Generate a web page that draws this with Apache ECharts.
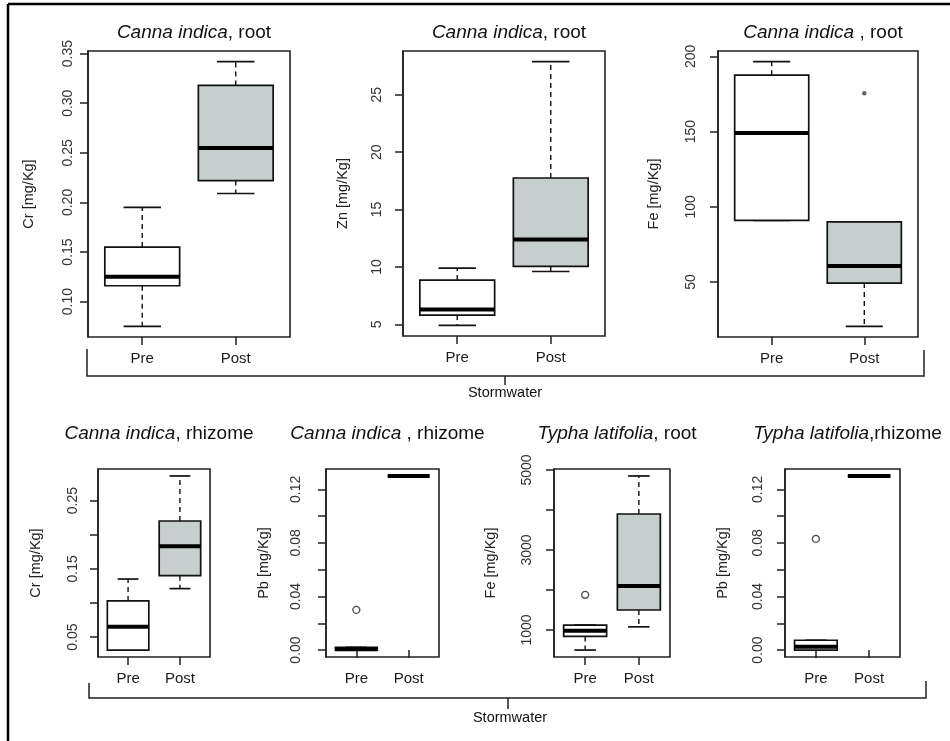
<!DOCTYPE html>
<html>
<head>
<meta charset="utf-8">
<script src="https://cdn.jsdelivr.net/npm/echarts@6.0.0/dist/echarts.min.js"></script>
<style>
html,body{margin:0;padding:0;background:#fff;}
#c{width:950px;height:741px;}
</style>
</head>
<body>
<div id="c"></div>
<script>
// ---- data: [lower whisker, Q1, median, Q3, upper whisker] ----
const groups = ['Pre', 'Post'];

const crRootPre  = [0.075, 0.116, 0.125, 0.155, 0.195];
const crRootPost = [0.209, 0.222, 0.255, 0.318, 0.342];
const crRootOut  = [[], []];

const znRootPre  = [4.9, 5.8, 6.3, 8.85, 9.9];
const znRootPost = [9.6, 10.05, 12.4, 17.75, 27.9];
const znRootOut  = [[], []];

const feRootPre  = [91, 91, 149, 187.5, 196.5];
const feRootPost = [20.5, 49.3, 60.7, 90, 90];
const feRootOut  = [[], [175.5]];

const crRhizPre  = [0.031, 0.031, 0.065, 0.103, 0.135];
const crRhizPost = [0.121, 0.140, 0.183, 0.220, 0.286];
const crRhizOut  = [[], []];

const pbCannaRhizPre  = [0, 0, 0.0005, 0.002, 0.002];
const pbCannaRhizPost = [0.13, 0.13, 0.13, 0.13, 0.13];
const pbCannaRhizOut  = [[0.03], []];

const feTyphaRootPre  = [500, 840, 980, 1125, 1125];
const feTyphaRootPost = [1080, 1500, 2100, 3900, 4850];
const feTyphaRootOut  = [[1880], []];

const pbTyphaRhizPre  = [0, 0, 0.0025, 0.0073, 0.0073];
const pbTyphaRhizPost = [0.13, 0.13, 0.13, 0.13, 0.13];
const pbTyphaRhizOut  = [[0.083], []];

// tick values and labelled ticks per panel
const ticksCrRoot = [0.10, 0.15, 0.20, 0.25, 0.30, 0.35];
const labelsCrRoot = ticksCrRoot;
const ticksZn = [5, 10, 15, 20, 25];
const labelsZn = ticksZn;
const ticksFeRoot = [50, 100, 150, 200];
const labelsFeRoot = ticksFeRoot;
const ticksCrRhiz = [0.05, 0.10, 0.15, 0.20, 0.25];
const labelsCrRhiz = [0.05, 0.15, 0.25];
const ticksPb = [0, 0.02, 0.04, 0.06, 0.08, 0.10, 0.12];
const labelsPb = [0, 0.04, 0.08, 0.12];
const ticksFeTypha = [1000, 2000, 3000, 4000, 5000];
const labelsFeTypha = [1000, 3000, 5000];

// ---- panel definitions (layout only) ----
const panels = [
  {pre: crRootPre, post: crRootPost, out: crRootOut, ticks: ticksCrRoot, labels: labelsCrRoot, dec: 2,
   name: 'Cr [mg/Kg]', title: ['Canna indica', ', root'],
   box: [88, 51, 202, 286], lblMargin: 13, nameGap: 52, outSym: 'hollow'},
  {pre: znRootPre, post: znRootPost, out: znRootOut, ticks: ticksZn, labels: labelsZn, dec: 0,
   name: 'Zn [mg/Kg]', title: ['Canna indica', ', root'],
   box: [403, 51, 202, 285], lblMargin: 19, nameGap: 53, outSym: 'hollow'},
  {pre: feRootPre, post: feRootPost, out: feRootOut, ticks: ticksFeRoot, labels: labelsFeRoot, dec: 0,
   name: 'Fe [mg/Kg]', title: ['Canna indica', ' , root'],
   box: [718, 51, 200, 286], lblMargin: 20, nameGap: 57, outSym: 'dot'},
  {pre: crRhizPre, post: crRhizPost, out: crRhizOut, ticks: ticksCrRhiz, labels: labelsCrRhiz, dec: 2,
   name: 'Cr [mg/Kg]', title: ['Canna indica', ', rhizome'],
   box: [98, 469, 112, 188], lblMargin: 18, nameGap: 55, outSym: 'hollow'},
  {pre: pbCannaRhizPre, post: pbCannaRhizPost, out: pbCannaRhizOut, ticks: ticksPb, labels: labelsPb, dec: 2,
   name: 'Pb [mg/Kg]', title: ['Canna indica', ' , rhizome'],
   box: [326, 469, 113, 188], lblMargin: 23, nameGap: 55, outSym: 'hollow'},
  {pre: feTyphaRootPre, post: feTyphaRootPost, out: feTyphaRootOut, ticks: ticksFeTypha, labels: labelsFeTypha, dec: 0,
   name: 'Fe [mg/Kg]', title: ['Typha latifolia', ', root'],
   box: [554, 469, 116, 188], lblMargin: 20, nameGap: 56, outSym: 'hollow'},
  {pre: pbTyphaRhizPre, post: pbTyphaRhizPost, out: pbTyphaRhizOut, ticks: ticksPb, labels: labelsPb, dec: 2,
   name: 'Pb [mg/Kg]', title: ['Typha latifolia', ',rhizome'],
   box: [785, 469, 115, 188], lblMargin: 20, nameGap: 55, outSym: 'hollow'}
];

const GRAY = '#c6cfcd';
const FONT = '"Liberation Sans", Arial, sans-serif';

function renderBox(params, api) {
  const x = api.value(0);
  const lo = api.coord([x, api.value(1)]);
  const q1 = api.coord([x, api.value(2)]);
  const md = api.coord([x, api.value(3)]);
  const q3 = api.coord([x, api.value(4)]);
  const hi = api.coord([x, api.value(5)]);
  const w = api.size([0.8, 0])[0];
  const cx = lo[0];
  const fill = x === 2 ? GRAY : '#ffffff';
  const dash = {stroke: '#111', lineWidth: 1.4, lineDash: [5, 4]};
  const solid = {stroke: '#111', lineWidth: 1.7};
  const ch = [];
  if (Math.abs(lo[1] - q1[1]) > 0.5) ch.push({type: 'line', shape: {x1: cx, y1: q1[1], x2: cx, y2: lo[1]}, style: dash});
  if (Math.abs(hi[1] - q3[1]) > 0.5) ch.push({type: 'line', shape: {x1: cx, y1: q3[1], x2: cx, y2: hi[1]}, style: dash});
  ch.push({type: 'line', shape: {x1: cx - w / 4, y1: lo[1], x2: cx + w / 4, y2: lo[1]}, style: solid});
  ch.push({type: 'line', shape: {x1: cx - w / 4, y1: hi[1], x2: cx + w / 4, y2: hi[1]}, style: solid});
  ch.push({type: 'rect', shape: {x: cx - w / 2, y: q3[1], width: w, height: q1[1] - q3[1]},
           style: {fill: fill, stroke: '#111', lineWidth: 1.7}});
  ch.push({type: 'line', shape: {x1: cx - w / 2, y1: md[1], x2: cx + w / 2, y2: md[1]},
           style: {stroke: '#000', lineWidth: 4}});
  return {type: 'group', children: ch};
}

const grid = [], xAxis = [], yAxis = [], series = [], title = [];
panels.forEach((p, i) => {
  const [l, t, w, h] = p.box;
  grid.push({left: l, top: t, width: w, height: h, show: true, borderColor: '#222', borderWidth: 1.6,
             backgroundColor: 'transparent', containLabel: false});
  // R-like limits: data range extended by 4%
  const all = p.pre.concat(p.post, p.out[0], p.out[1]);
  const mn = Math.min.apply(null, all), mx = Math.max.apply(null, all);
  const ext = (mx - mn) * 0.04;
  xAxis.push({type: 'value', gridIndex: i, min: 0.42, max: 2.58,
    axisLine: {show: false}, splitLine: {show: false},
    axisTick: {show: true, customValues: [1, 2], length: 8, lineStyle: {color: '#222', width: 1.5}},
    axisLabel: {show: true, customValues: [1, 2], margin: 14, fontSize: 15, color: '#1a1a1a', fontFamily: FONT,
      formatter: v => groups[Math.round(v) - 1] || ''}
  });
  yAxis.push({type: 'value', gridIndex: i, min: mn - ext, max: mx + ext,
    name: p.name, nameLocation: 'middle', nameGap: p.nameGap, nameRotate: 90,
    nameTextStyle: {fontSize: 14.5, color: '#222', fontFamily: FONT},
    axisLine: {show: true, lineStyle: {color: '#222', width: 1.5}}, splitLine: {show: false},
    axisTick: {show: true, customValues: p.ticks, length: 8, lineStyle: {color: '#222', width: 1.5}},
    axisLabel: {show: true, customValues: p.labels, rotate: 90, margin: p.lblMargin, fontSize: 14,
      color: '#333', fontFamily: FONT, formatter: v => Number(v).toFixed(p.dec)}
  });
  series.push({type: 'custom', xAxisIndex: i, yAxisIndex: i, renderItem: renderBox, clip: false,
    encode: {x: 0, y: [1, 2, 3, 4, 5]}, silent: true,
    data: [[1].concat(p.pre), [2].concat(p.post)]});
  const outData = [];
  p.out.forEach((arr, g) => arr.forEach(v => outData.push([g + 1, v])));
  if (outData.length) {
    series.push({type: 'scatter', xAxisIndex: i, yAxisIndex: i, silent: true, data: outData,
      symbol: 'circle',
      symbolSize: p.outSym === 'dot' ? 4.5 : 7,
      itemStyle: p.outSym === 'dot' ? {color: '#444'} : {color: '#fff', borderColor: '#222', borderWidth: 1.3}});
  }
  const row = i < 3 ? 0 : 1;
  title.push({text: '{i|' + p.title[0] + '}' + p.title[1], left: l + w / 2, top: row === 0 ? 18 : 419,
    textAlign: 'center',
    textStyle: {fontSize: 19, fontWeight: 'normal', color: '#111', fontFamily: FONT,
      rich: {i: {fontSize: 19, fontStyle: 'italic', color: '#111', fontFamily: FONT}}}});
});

const L = {stroke: '#222', lineWidth: 1.5};
const graphic = [
  // outer frame
  {type: 'line', shape: {x1: 8, y1: 4, x2: 8, y2: 741}, style: {stroke: '#000', lineWidth: 2.5}},
  {type: 'line', shape: {x1: 8, y1: 4, x2: 950, y2: 4}, style: {stroke: '#000', lineWidth: 2.5}},
  // top bracket
  {type: 'polyline', shape: {points: [[87, 349], [87, 376], [924, 376], [924, 350]]}, style: Object.assign({fill: 'none'}, L)},
  {type: 'line', shape: {x1: 505, y1: 376, x2: 505, y2: 385}, style: L},
  {type: 'text', x: 505, y: 393, style: {text: 'Stormwater', fontSize: 14.5, fill: '#111', fontFamily: FONT, align: 'center', verticalAlign: 'middle'}},
  // bottom bracket
  {type: 'polyline', shape: {points: [[89, 683], [89, 698], [926, 698], [926, 681]]}, style: Object.assign({fill: 'none'}, L)},
  {type: 'line', shape: {x1: 508, y1: 698, x2: 508, y2: 709}, style: L},
  {type: 'text', x: 510, y: 718, style: {text: 'Stormwater', fontSize: 14.5, fill: '#111', fontFamily: FONT, align: 'center', verticalAlign: 'middle'}}
];

const chart = echarts.init(document.getElementById('c'), null, {renderer: 'canvas'});
chart.setOption({animation: false, backgroundColor: '#fff', title, grid, xAxis, yAxis, series, graphic});
</script>
</body>
</html>
